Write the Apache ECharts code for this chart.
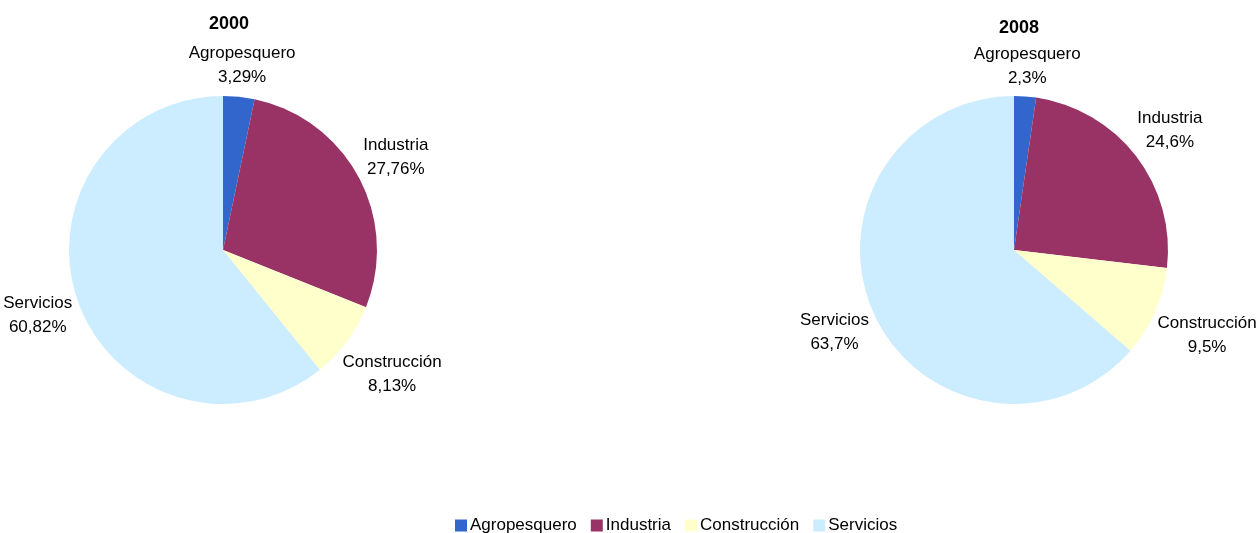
<!DOCTYPE html>
<html>
<head>
<meta charset="utf-8">
<script src="https://cdn.jsdelivr.net/npm/echarts@6/dist/echarts.min.js"></script>
<style>
  html, body { margin: 0; padding: 0; background: #fff; }
  #chart { width: 1259px; height: 533px; }
</style>
</head>
<body>
<div id="chart"></div>
<script>
// sectores y participaciones (%)
const sectors = ['Agropesquero', 'Industria', 'Construcción', 'Servicios'];
const values2000 = [3.29, 27.76, 8.13, 60.82];
const values2008 = [2.3, 24.6, 9.5, 63.7];
const labels2000 = ['3,29%', '27,76%', '8,13%', '60,82%'];
const labels2008 = ['2,3%', '24,6%', '9,5%', '63,7%'];
const colors = ['#3366CC', '#993366', '#FFFFCC', '#CCECFF'];

const font = 'Liberation Sans, Arial, sans-serif';
const R = 154;
const centers = [[223, 250], [1014, 250]];
const allValues = [values2000, values2008];

const toData = (vals, labs) => vals.map((v, i) => ({
  name: sectors[i],
  value: v,
  pct: labs[i]
}));

// angulo medio de cada sector (desde arriba, sentido horario)
const midAngle = (vals, idx) => {
  const total = vals.reduce((a, b) => a + b, 0);
  let acc = 0;
  for (let i = 0; i < idx; i++) acc += vals[i];
  return (acc + vals[idx] / 2) / total * 2 * Math.PI;
};

const pieSeries = (name, center, vals, labs) => ({
  name: name,
  type: 'pie',
  center: center,
  radius: R,
  startAngle: 90,
  clockwise: true,
  silent: true,
  data: toData(vals, labs),
  itemStyle: { borderWidth: 0 },
  label: {
    show: true,
    position: 'inside',
    formatter: p => p.name + '\n' + p.data.pct,
    fontFamily: font,
    fontSize: 17,
    lineHeight: 24,
    color: '#000',
    align: 'center'
  },
  labelLine: { show: false },
  // etiquetas fuera del sector, centradas, como en Excel
  labelLayout: p => {
    const a = midAngle(allValues[p.seriesIndex], p.dataIndex);
    const dx = Math.sin(a), dy = -Math.cos(a);
    const w = p.labelRect.width, h = p.labelRect.height;
    const ext = Math.abs(dx) * w / 2 + Math.abs(dy) * h / 2;
    const d = R + 2 + ext;
    const c = centers[p.seriesIndex];
    return {
      x: c[0] + dx * d,
      y: c[1] + dy * d,
      align: 'center',
      verticalAlign: 'middle'
    };
  }
});

const chart = echarts.init(document.getElementById('chart'));
chart.setOption({
  animation: false,
  color: colors,
  title: [
    { text: '2000', left: 224, top: 10, textAlign: 'center',
      textStyle: { fontFamily: font, fontSize: 18, fontWeight: 'bold', color: '#000' } },
    { text: '2008', left: 1014, top: 14, textAlign: 'center',
      textStyle: { fontFamily: font, fontSize: 18, fontWeight: 'bold', color: '#000' } }
  ],
  legend: {
    top: 512,
    left: 450,
    data: sectors,
    icon: 'rect',
    itemWidth: 12,
    itemHeight: 12,
    itemGap: 14,
    textStyle: { fontFamily: font, fontSize: 17, color: '#000', padding: [0, 0, 0, -2] }
  },
  series: [
    pieSeries('2000', centers[0], values2000, labels2000),
    pieSeries('2008', centers[1], values2008, labels2008)
  ]
});
</script>
</body>
</html>
